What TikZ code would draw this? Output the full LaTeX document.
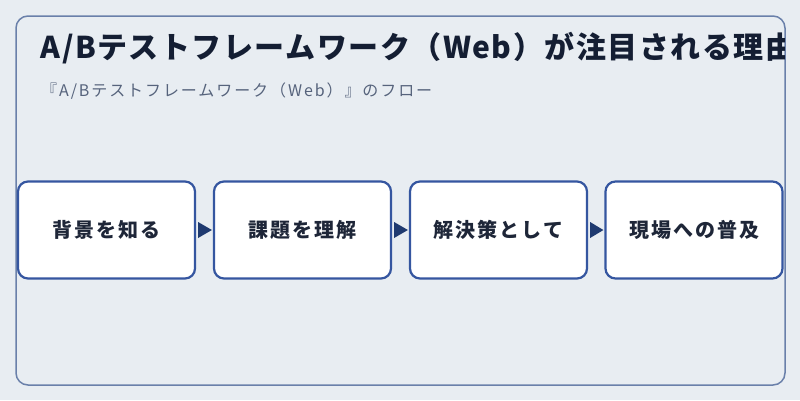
\documentclass[tikz,border=0pt]{standalone}
\usepackage{fontspec}
\setmainfont{Noto Sans CJK JP}
\usetikzlibrary{calc}
\definecolor{bgc}{HTML}{E8EDF2}
\definecolor{panelc}{HTML}{6A80AA}
\definecolor{boxc}{HTML}{3556A0}
\definecolor{arrowc}{HTML}{1F3A70}
\definecolor{titlec}{HTML}{141E33}
\definecolor{subc}{HTML}{56637C}
\definecolor{textc}{HTML}{1E2638}
\tikzset{
  stepbox/.style={draw=boxc, fill=white, line width=2.2pt, rounded corners=10pt,
    minimum width=177pt, minimum height=97pt, inner sep=0pt,
    font=\bfseries\fontsize{20}{24}\selectfont\addfontfeatures{LetterSpace=10}, text=textc},
  tip/.style={fill=arrowc},
}
\begin{document}
\begin{tikzpicture}[x=1pt,y=-1pt]
\useasboundingbox[fill=bgc] (0,0) rectangle (800,400);
\draw[panelc, line width=1.5pt, rounded corners=12pt] (16,16) rectangle (785,385);
\begin{scope}
\clip[rounded corners=12pt] (16,16) rectangle (784.5,385);
\node[anchor=base west, inner sep=0pt, text=titlec, font=\bfseries\fontsize{30}{36}\selectfont\addfontfeatures{LetterSpace=5}] (title) at (40.5,58) {A/Bテストフレームワーク（Web）が注目される理由};
\end{scope}
\node[anchor=base west, inner sep=0pt, text=subc, font=\fontsize{16}{19}\selectfont\addfontfeatures{LetterSpace=12}] (sub) at (41,96) {『A/Bテストフレームワーク（Web）』のフロー};
\node[stepbox] (b1) at (106.5,230) {背景を知る};
\node[stepbox] (b2) at (302.5,230) {課題を理解};
\node[stepbox] (b3) at (498.5,230) {解決策として};
\node[stepbox] (b4) at (694,230) {現場への普及};
\foreach \a/\b in {b1/b2,b2/b3,b3/b4}{
  \fill[tip] ($(\a.east)+(2,-8)$) -- ($(\b.west)+(-1,0)$) -- ($(\a.east)+(2,8)$) -- cycle;
}
\end{tikzpicture}
\end{document}
